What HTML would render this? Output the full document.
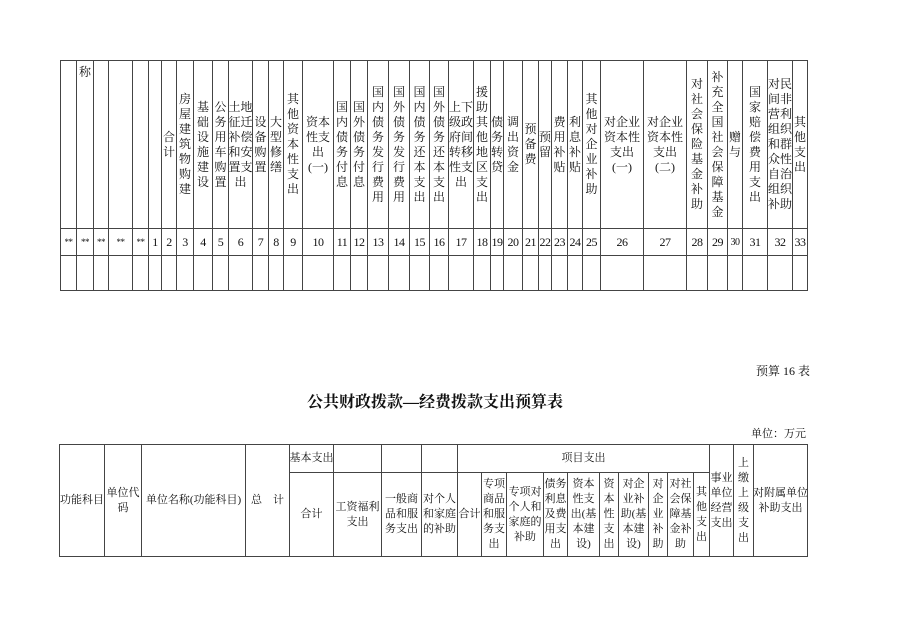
<!DOCTYPE html>
<html><head><meta charset="utf-8"><style>
body{margin:0;width:898px;height:635px;background:#fff;position:relative;overflow:hidden;font-family:"Liberation Serif","Noto Serif CJK SC",serif;color:#111}
.c{position:absolute;box-sizing:border-box;border:1px solid #444;display:flex;align-items:center;justify-content:center;text-align:center;font-size:12px;line-height:15px;overflow:hidden;white-space:nowrap}
.h{top:60px;height:169px}
.n{top:228px;height:28px;font-size:12px;letter-spacing:-0.5px}
.e{top:255px;height:36px}
.b{font-size:11px;line-height:15px}
.r1{top:444px;height:29px}
.r2{top:472px;height:85px}
.f{top:444px;height:113px}
.t{position:absolute;font-size:12px;white-space:nowrap}
</style></head><body>
<div class="c h" style="left:60px;width:17px"></div>
<div class="c h" style="left:76px;width:18px;align-items:flex-start;padding-top:4px">称</div>
<div class="c h" style="left:93px;width:16px"></div>
<div class="c h" style="left:108px;width:25px"></div>
<div class="c h" style="left:132px;width:17px"></div>
<div class="c h" style="left:148px;width:14px"></div>
<div class="c h" style="left:161px;width:16px">合<br>计</div>
<div class="c h" style="left:176px;width:18px">房<br>屋<br>建<br>筑<br>物<br>购<br>建</div>
<div class="c h" style="left:193px;width:20px">基<br>础<br>设<br>施<br>建<br>设</div>
<div class="c h" style="left:212px;width:17px">公<br>务<br>用<br>车<br>购<br>置</div>
<div class="c h" style="left:228px;width:25px">土地<br>征迁<br>补偿<br>和安<br>置支<br>出</div>
<div class="c h" style="left:252px;width:17px">设<br>备<br>购<br>置</div>
<div class="c h" style="left:268px;width:16px">大<br>型<br>修<br>缮</div>
<div class="c h" style="left:283px;width:20px">其<br>他<br>资<br>本<br>性<br>支<br>出</div>
<div class="c h" style="left:302px;width:32px">资本<br>性支<br>出<br>(一)</div>
<div class="c h" style="left:333px;width:18px">国<br>内<br>债<br>务<br>付<br>息</div>
<div class="c h" style="left:350px;width:18px">国<br>外<br>债<br>务<br>付<br>息</div>
<div class="c h" style="left:367px;width:22px">国<br>内<br>债<br>务<br>发<br>行<br>费<br>用</div>
<div class="c h" style="left:388px;width:22px">国<br>外<br>债<br>务<br>发<br>行<br>费<br>用</div>
<div class="c h" style="left:409px;width:21px">国<br>内<br>债<br>务<br>还<br>本<br>支<br>出</div>
<div class="c h" style="left:429px;width:20px">国<br>外<br>债<br>务<br>还<br>本<br>支<br>出</div>
<div class="c h" style="left:448px;width:26px">上下<br>级政<br>府间<br>转移<br>性支<br>出</div>
<div class="c h" style="left:473px;width:18px">援<br>助<br>其<br>他<br>地<br>区<br>支<br>出</div>
<div class="c h" style="left:490px;width:14px">债<br>务<br>转<br>贷</div>
<div class="c h" style="left:503px;width:20px">调<br>出<br>资<br>金</div>
<div class="c h" style="left:522px;width:17px">预<br>备<br>费</div>
<div class="c h" style="left:538px;width:14px">预<br>留</div>
<div class="c h" style="left:551px;width:17px">费<br>用<br>补<br>贴</div>
<div class="c h" style="left:567px;width:16px">利<br>息<br>补<br>贴</div>
<div class="c h" style="left:582px;width:19px">其<br>他<br>对<br>企<br>业<br>补<br>助</div>
<div class="c h" style="left:600px;width:44px">对企业<br>资本性<br>支出<br>(一)</div>
<div class="c h" style="left:643px;width:44px">对企业<br>资本性<br>支出<br>(二)</div>
<div class="c h" style="left:686px;width:22px">对<br>社<br>会<br>保<br>险<br>基<br>金<br>补<br>助</div>
<div class="c h" style="left:707px;width:21px">补<br>充<br>全<br>国<br>社<br>会<br>保<br>障<br>基<br>金</div>
<div class="c h" style="left:727px;width:16px">赠<br>与</div>
<div class="c h" style="left:742px;width:26px">国<br>家<br>赔<br>偿<br>费<br>用<br>支<br>出</div>
<div class="c h" style="left:767px;width:26px">对民<br>间非<br>营利<br>组织<br>和群<br>众性<br>自治<br>组织<br>补助</div>
<div class="c h" style="left:792px;width:16px">其<br>他<br>支<br>出</div>
<div class="c n" style="left:60px;width:17px;font-size:9px">**</div>
<div class="c n" style="left:76px;width:18px;font-size:9px">**</div>
<div class="c n" style="left:93px;width:16px;font-size:9px">**</div>
<div class="c n" style="left:108px;width:25px;font-size:9px">**</div>
<div class="c n" style="left:132px;width:17px;font-size:9px">**</div>
<div class="c n" style="left:148px;width:14px">1</div>
<div class="c n" style="left:161px;width:16px">2</div>
<div class="c n" style="left:176px;width:18px">3</div>
<div class="c n" style="left:193px;width:20px">4</div>
<div class="c n" style="left:212px;width:17px">5</div>
<div class="c n" style="left:228px;width:25px">6</div>
<div class="c n" style="left:252px;width:17px">7</div>
<div class="c n" style="left:268px;width:16px">8</div>
<div class="c n" style="left:283px;width:20px">9</div>
<div class="c n" style="left:302px;width:32px">10</div>
<div class="c n" style="left:333px;width:18px">11</div>
<div class="c n" style="left:350px;width:18px">12</div>
<div class="c n" style="left:367px;width:22px">13</div>
<div class="c n" style="left:388px;width:22px">14</div>
<div class="c n" style="left:409px;width:21px">15</div>
<div class="c n" style="left:429px;width:20px">16</div>
<div class="c n" style="left:448px;width:26px">17</div>
<div class="c n" style="left:473px;width:18px">18</div>
<div class="c n" style="left:490px;width:14px">19</div>
<div class="c n" style="left:503px;width:20px">20</div>
<div class="c n" style="left:522px;width:17px">21</div>
<div class="c n" style="left:538px;width:14px">22</div>
<div class="c n" style="left:551px;width:17px">23</div>
<div class="c n" style="left:567px;width:16px">24</div>
<div class="c n" style="left:582px;width:19px">25</div>
<div class="c n" style="left:600px;width:44px">26</div>
<div class="c n" style="left:643px;width:44px">27</div>
<div class="c n" style="left:686px;width:22px">28</div>
<div class="c n" style="left:707px;width:21px">29</div>
<div class="c n" style="left:727px;width:16px;font-size:10px">30</div>
<div class="c n" style="left:742px;width:26px">31</div>
<div class="c n" style="left:767px;width:26px">32</div>
<div class="c n" style="left:792px;width:16px">33</div>
<div class="c e" style="left:60px;width:17px"></div>
<div class="c e" style="left:76px;width:18px"></div>
<div class="c e" style="left:93px;width:16px"></div>
<div class="c e" style="left:108px;width:25px"></div>
<div class="c e" style="left:132px;width:17px"></div>
<div class="c e" style="left:148px;width:14px"></div>
<div class="c e" style="left:161px;width:16px"></div>
<div class="c e" style="left:176px;width:18px"></div>
<div class="c e" style="left:193px;width:20px"></div>
<div class="c e" style="left:212px;width:17px"></div>
<div class="c e" style="left:228px;width:25px"></div>
<div class="c e" style="left:252px;width:17px"></div>
<div class="c e" style="left:268px;width:16px"></div>
<div class="c e" style="left:283px;width:20px"></div>
<div class="c e" style="left:302px;width:32px"></div>
<div class="c e" style="left:333px;width:18px"></div>
<div class="c e" style="left:350px;width:18px"></div>
<div class="c e" style="left:367px;width:22px"></div>
<div class="c e" style="left:388px;width:22px"></div>
<div class="c e" style="left:409px;width:21px"></div>
<div class="c e" style="left:429px;width:20px"></div>
<div class="c e" style="left:448px;width:26px"></div>
<div class="c e" style="left:473px;width:18px"></div>
<div class="c e" style="left:490px;width:14px"></div>
<div class="c e" style="left:503px;width:20px"></div>
<div class="c e" style="left:522px;width:17px"></div>
<div class="c e" style="left:538px;width:14px"></div>
<div class="c e" style="left:551px;width:17px"></div>
<div class="c e" style="left:567px;width:16px"></div>
<div class="c e" style="left:582px;width:19px"></div>
<div class="c e" style="left:600px;width:44px"></div>
<div class="c e" style="left:643px;width:44px"></div>
<div class="c e" style="left:686px;width:22px"></div>
<div class="c e" style="left:707px;width:21px"></div>
<div class="c e" style="left:727px;width:16px"></div>
<div class="c e" style="left:742px;width:26px"></div>
<div class="c e" style="left:767px;width:26px"></div>
<div class="c e" style="left:792px;width:16px"></div>

<div class="t" style="left:756px;top:362px;font-size:12px">预算 16 表</div>
<div class="t" style="left:0;width:870px;text-align:center;top:389px;font-size:16px;font-weight:bold">公共财政拨款—经费拨款支出预算表</div>
<div class="t" style="left:751px;top:425px;font-size:11px">单位：万元</div>

<div class="c b f" style="left:59px;width:46px">功能科目</div>
<div class="c b f" style="left:104px;width:38px">单位代<br>码</div>
<div class="c b f" style="left:141px;width:105px">单位名称(功能科目)</div>
<div class="c b f" style="left:245px;width:45px">总　计</div>
<div class="c b r1" style="left:289px;width:45px">基本支出</div>
<div class="c b r1" style="left:333px;width:49px"></div>
<div class="c b r1" style="left:381px;width:41px"></div>
<div class="c b r1" style="left:421px;width:37px"></div>
<div class="c b r1" style="left:457px;width:253px">项目支出</div>
<div class="c b r2" style="left:289px;width:45px">合计</div>
<div class="c b r2" style="left:333px;width:49px">工资福利<br>支出</div>
<div class="c b r2" style="left:381px;width:41px">一般商<br>品和服<br>务支出</div>
<div class="c b r2" style="left:421px;width:37px">对个人<br>和家庭<br>的补助</div>
<div class="c b r2" style="left:457px;width:25px">合计</div>
<div class="c b r2" style="left:481px;width:26px">专项<br>商品<br>和服<br>务支<br>出</div>
<div class="c b r2" style="left:506px;width:38px">专项对<br>个人和<br>家庭的<br>补助</div>
<div class="c b r2" style="left:543px;width:25px">债务<br>利息<br>及费<br>用支<br>出</div>
<div class="c b r2" style="left:567px;width:33px">资本<br>性支<br>出(基<br>本建<br>设)</div>
<div class="c b r2" style="left:599px;width:20px">资<br>本<br>性<br>支<br>出</div>
<div class="c b r2" style="left:618px;width:31px">对企<br>业补<br>助(基<br>本建<br>设)</div>
<div class="c b r2" style="left:648px;width:20px">对<br>企<br>业<br>补<br>助</div>
<div class="c b r2" style="left:667px;width:27px">对社<br>会保<br>障基<br>金补<br>助</div>
<div class="c b r2" style="left:693px;width:17px">其<br>他<br>支<br>出</div>
<div class="c b f" style="left:709px;width:25px">事业<br>单位<br>经营<br>支出</div>
<div class="c b f" style="left:733px;width:21px">上<br>缴<br>上<br>级<br>支<br>出</div>
<div class="c b f" style="left:753px;width:55px">对附属单位<br>补助支出</div>
</body></html>
